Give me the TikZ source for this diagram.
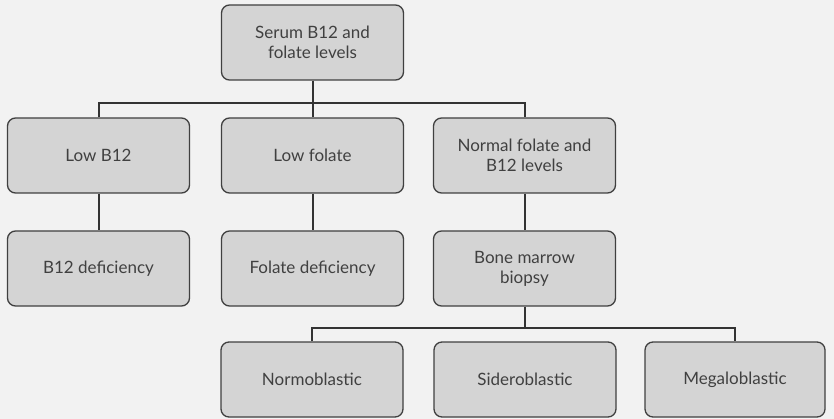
\documentclass[tikz,border=0pt]{standalone}
\usepackage{fontspec}
\setmainfont{Lato}
\begin{document}
\begin{tikzpicture}[x=1pt,y=-1pt,
  box/.style={draw=black!75, line width=1.3pt, fill=black!17, rounded corners=8pt,
    minimum width=182pt, minimum height=75pt, align=center, inner sep=2pt,
    font=\fontsize{17}{20}\selectfont, text=black!75},
  link/.style={draw=black!80, line width=2pt}]
\fill[black!5] (0,0) rectangle (834,419);
\useasboundingbox (0,0) rectangle (834,419);
\node[box] (top) at (312.5,42.5) {Serum B12 and\\folate levels};
\node[box] (lowb) at (98.5,155.5) {Low B12};
\node[box] (lowf) at (312.5,155.5) {Low folate};
\node[box] (norm) at (524.5,155.5) {Normal folate and\\B12 levels};
\node[box] (bdef) at (98.5,268.5) {B12 deficiency};
\node[box] (fdef) at (312.5,268.5) {Folate deficiency};
\node[box] (bmb) at (524.5,268.5) {Bone marrow\\biopsy};
\node[box] (normo) at (312,379.5) {Normoblastic};
\node[box] (sidero) at (525,379.5) {Sideroblastic};
\node[box, minimum width=180pt] (mega) at (735,379.5) {Megaloblastic};
\coordinate (bus1) at (312.5,103);
\coordinate (bus2) at (524.5,328);
\draw[link] (top.south) -- (lowf.north);
\draw[link] (lowb.north) -- (lowb.north |- bus1) -- (norm.north |- bus1) -- (norm.north);
\draw[link] (lowb.south) -- (bdef.north);
\draw[link] (lowf.south) -- (fdef.north);
\draw[link] (norm.south) -- (bmb.north);
\draw[link] (bmb.south) -- (bus2);
\draw[link] (normo.north) -- (normo.north |- bus2) -- (mega.north |- bus2) -- (mega.north);
\end{tikzpicture}
\end{document}
